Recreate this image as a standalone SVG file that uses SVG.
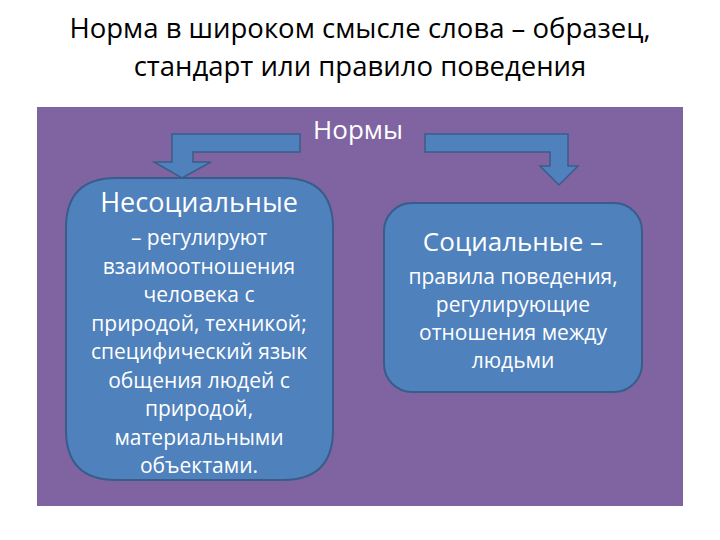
<svg xmlns="http://www.w3.org/2000/svg" width="720" height="540" viewBox="0 0 720 540">
<style>
.t{font-family:"Open Sans","Liberation Sans",sans-serif;text-anchor:middle}
.w{fill:#fff}
.box{fill:#4f81bd;stroke:#385d8a;stroke-width:2}
.arr{fill:#4f81bd;stroke:#385d8a;stroke-width:1.5}
</style>
<rect width="720" height="540" fill="#fff"/>
<text class="t" x="360" y="38" font-size="27.5" fill="#000">Норма в широком смысле слова – образец,</text>
<text class="t" x="360" y="76" font-size="27.5" fill="#000">стандарт или правило поведения</text>
<rect x="37" y="107" width="646" height="399" fill="#8064a2"/>
<g id="connectors">
<path class="arr" d="M300,134 H172 V162 H154 L182,178 L211,162 H193 V152 H300 Z"/>
<path class="arr" d="M425,134 H568 V166 H578 L559,185 L540,166 H550 V152 H425 Z"/>
</g>
<g id="norms"><text class="t w" x="358" y="139" font-size="26">Нормы</text></g>
<g id="nonsocial">
<path class="box" d="M116,178 H283 Q333,178 333,228 V430 Q333,480 283,480 H116 Q66,480 66,430 V228 Q66,178 116,178 Z"/>
<text class="t w" x="199" y="212" font-size="27">Несоциальные</text>
<g class="t w" font-size="21">
<text x="199" y="245">– регулируют</text>
<text x="199" y="274">взаимоотношения</text>
<text x="199" y="302">человека с</text>
<text x="199" y="331">природой, техникой;</text>
<text x="199" y="359">специфический язык</text>
<text x="199" y="388">общения людей с</text>
<text x="199" y="416">природой,</text>
<text x="199" y="445">материальными</text>
<text x="199" y="473">объектами.</text>
</g>
</g>
<g id="social">
<rect class="box" x="384" y="203" width="258" height="189" rx="28"/>
<text class="t w" x="513" y="251" font-size="26">Социальные –</text>
<g class="t w" font-size="21">
<text x="513" y="284">правила поведения,</text>
<text x="513" y="312">регулирующие</text>
<text x="513" y="340">отношения между</text>
<text x="513" y="368">людьми</text>
</g>
</g>
</svg>
